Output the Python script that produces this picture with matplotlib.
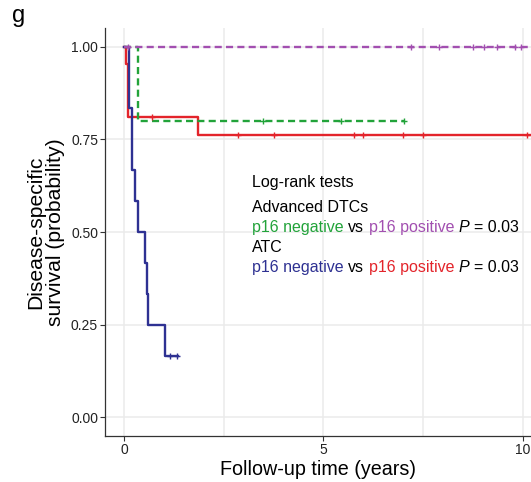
import matplotlib
matplotlib.use("Agg")
import matplotlib.pyplot as plt
import numpy as np

plt.rcParams['font.family'] = ['Liberation Sans', 'DejaVu Sans']

# ---- data ----
# ATC p16 negative (blue)
blue_t = [0, 0.13, 0.19, 0.19, 0.19, 0.26, 0.34, 0.52, 0.58, 0.60, 1.03]
blue_s = [1.0, 0.833, 0.833, 0.75, 0.667, 0.583, 0.5, 0.417, 0.333, 0.25, 0.167]
blue_end = 1.36
blue_cens = [1.15, 1.32]

# ATC p16 positive (red)
red_t = [0, 0.04, 0.09, 1.84]
red_s = [1.0, 0.952, 0.810, 0.762]
red_end = 10.5
red_cens_t = [0.69, 2.86, 3.77, 5.76, 6.0, 7.0, 7.5, 10.12]

# Advanced DTCs p16 negative (green)
green_t = [0, 0.35]
green_s = [1.0, 0.80]
green_end = 7.02
green_cens = [3.47, 5.43, 7.02]

# Advanced DTCs p16 positive (purple)
purple_t = [0]
purple_s = [1.0]
purple_end = 10.5
purple_cens = [0.1, 7.19, 7.9, 8.76, 9.03, 9.36, 9.82, 9.95]

x_ticks = [0, 5, 10]
y_ticks = [0.0, 0.25, 0.5, 0.75, 1.0]
y_ticklabels = ["0.00", "0.25", "0.50", "0.75", "1.00"]

C_BLUE = "#2E3192"
C_RED = "#E3242B"
C_GREEN = "#22A33A"
C_PURPLE = "#A24FB0"

W, H = 531, 482
fig = plt.figure(figsize=(W / 100, H / 100), dpi=100)
ax = fig.add_axes([105 / W, (H - 436) / H, 1 - 105 / W, (436 - 28) / H])


def surv_at(tt, ts, ss):
    idx = np.searchsorted(ts, tt, side='right') - 1
    return np.asarray(ss)[idx]


def km(ax, ts, ss, end, cens, color, dashed=False):
    x = list(ts) + [end]
    y = list(ss) + [ss[-1]]
    line, = ax.step(x, y, color=color, lw=1.7, where='post', zorder=3)
    if dashed:
        line.set_dashes((3.0, 1.8))
    cy = [surv_at(c, ts, ss) for c in cens]
    ax.plot(cens, cy, ls='none', marker='+', ms=5, mew=1.0, color=color, zorder=4)


km(ax, red_t, red_s, red_end, red_cens_t, C_RED)
km(ax, green_t, green_s, green_end, green_cens, C_GREEN, dashed=True)
km(ax, blue_t, blue_s, blue_end, blue_cens, C_BLUE)
km(ax, purple_t, purple_s, purple_end, purple_cens, C_PURPLE, dashed=True)

ax.set_xlim(-0.484, 10.21)
ax.set_ylim(-0.05, 1.05)
ax.set_xticks(x_ticks)
ax.set_xticks([2.5, 7.5], minor=True)
ax.set_yticks(y_ticks)
ax.set_yticklabels(y_ticklabels)
ax.grid(True, which='major', color='#EBEBEB', lw=1.1, zorder=0)
ax.grid(True, which='minor', axis='x', color='#EBEBEB', lw=1.1, zorder=0)
ax.tick_params(which='minor', length=0)
ax.tick_params(which='major', length=3.5, width=0.8, color='#333333',
               labelsize=10, labelcolor='#222222', pad=1.5)
for s in ['top', 'right']:
    ax.spines[s].set_visible(False)
for s in ['left', 'bottom']:
    ax.spines[s].set_color('#333333')
    ax.spines[s].set_linewidth(0.9)
ax.set_axisbelow(True)

ax.set_xlabel("Follow-up time (years)", fontsize=14.2, labelpad=2)
ax.set_ylabel("Disease-specific\nsurvival (probability)", fontsize=15.2, labelpad=4,
              linespacing=1.05)

fig.text(12 / W, 1 - 22 / H, "g", fontsize=17, va='baseline', ha='left')

# ---- annotation block with coloured segments ----
fs = 11.5
afam = ['Liberation Sans', 'DejaVu Sans']
fig.canvas.draw()
renderer = fig.canvas.get_renderer()


def width_of(s, style='normal'):
    t = fig.text(0, 0, s, fontsize=fs, style=style, family=afam)
    w = t.get_window_extent(renderer).width
    t.remove()
    return w


space_w = width_of("a a") - width_of("aa")


def draw_line(x0, y0, segments):
    # x0, y0 in figure pixels (y measured from top)
    x = x0
    for txt, col, style in segments:
        fig.text(x / W, 1 - y0 / H, txt, fontsize=fs, color=col, family=afam,
                 style=style, va='baseline', ha='left')
        x += width_of(txt, style) + space_w


x0 = 252
draw_line(x0, 187, [("Log-rank tests", 'black', 'normal')])
draw_line(x0, 211.5, [("Advanced DTCs", 'black', 'normal')])
draw_line(x0, 231.5, [("p16 negative", C_GREEN, 'normal'), ("vs", 'black', 'normal'),
                       ("p16 positive", C_PURPLE, 'normal'), ("P", 'black', 'italic'),
                       ("= 0.03", 'black', 'normal')])
draw_line(x0, 252.5, [("ATC", 'black', 'normal')])
draw_line(x0, 272, [("p16 negative", C_BLUE, 'normal'), ("vs", 'black', 'normal'),
                     ("p16 positive", C_RED, 'normal'), ("P", 'black', 'italic'),
                     ("= 0.03", 'black', 'normal')])

fig.savefig("out.png", dpi=100)
